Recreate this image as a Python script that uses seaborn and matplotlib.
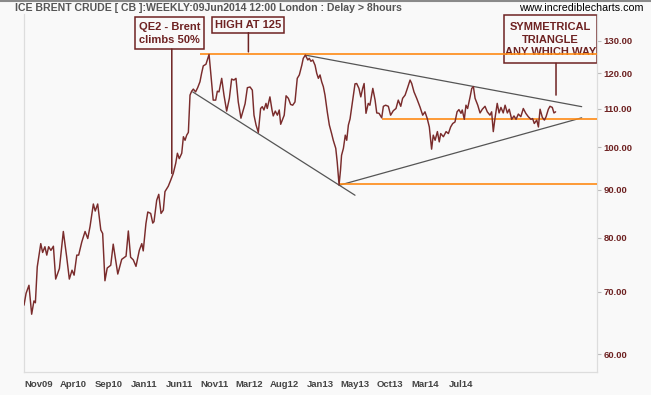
import matplotlib
matplotlib.use("Agg")
import matplotlib.pyplot as plt
import seaborn as sns
import pandas as pd
from matplotlib.patches import Rectangle
from matplotlib.lines import Line2D
from matplotlib.ticker import FixedLocator, NullLocator, FuncFormatter

# ---------------- data ----------------
weeks = [0, 1.0, 2.4, 3.7, 4.8, 5.5, 6.4, 8.1, 9.0, 10.1, 11.0, 11.9, 13.0, 14.2, 15.3, 17.1,
         19.0, 20.6, 21.9, 23.2, 24.2, 25.5, 26.4, 27.9, 29.5, 30.8, 31.9, 33.5, 34.4, 35.6,
         37.1, 38.0, 39.1, 40.2, 41.9, 43.1, 45.3, 47.2, 49.3, 50.4, 51.5, 52.8, 54.1, 55.7,
         56.9, 57.6, 58.9, 59.8, 61.2, 62.2, 62.8, 64.1, 65.1, 66.2, 67.3, 68.1, 69.7, 70.9,
         72.1, 73.3, 74.1, 75.0, 76.2, 77.0, 77.8, 78.6, 79.4, 80.2, 81.0, 81.8, 82.9, 83.9,
         85.0, 85.8, 86.6, 87.9, 89.4, 90.3, 91.4, 92.6, 93.4, 94.2, 95.5, 96.6, 97.9, 99.2,
         100.3, 101.4, 102.4, 103.5, 104.8, 106.8, 107.9, 109.2, 110.3, 111.1, 112.1, 113.2,
         114.3, 115.1, 115.9, 116.9, 117.5, 118.8, 119.8, 120.4, 121.4, 122.4, 123.3, 124.0,
         125.0, 125.7, 126.6, 127.7, 128.8, 129.8, 130.9, 132.0, 133.0, 134.2, 134.9, 135.9,
         137.1, 137.8, 138.6, 139.5, 140.6, 141.4, 142.2, 143.0, 143.8, 144.6, 145.4, 146.5,
         147.5, 148.6, 149.4, 150.6, 151.3, 152.2, 152.9, 153.4, 154.3, 155.2, 155.9, 156.7,
         157.5, 158.6, 159.9, 160.7, 161.8, 162.7, 163.6, 164.3, 165.2, 166.3, 167.1, 168.5,
         169.6, 170.4, 171.5, 172.8, 173.6, 174.7, 176.0, 177.1, 178.4, 179.7, 180.8, 182.0,
         182.9, 184.1, 185.2, 186.5, 187.3, 188.4, 189.7, 191.3, 192.6, 193.7, 194.8, 195.8,
         196.9, 197.7, 198.6, 199.7, 200.6, 201.3, 202.6, 203.9, 205.0, 206.1, 207.1, 208.2,
         209.2, 210.1, 211.1, 211.7, 212.7, 213.5, 214.3, 215.5, 216.3, 217.1, 217.9, 219.2,
         220.3, 221.4, 222.7, 223.8, 225.1, 225.9, 226.7, 227.5, 228.6, 229.5, 230.4, 231.5,
         232.4, 233.5, 234.4, 235.6, 236.7, 237.7, 238.8, 240.0, 241.2, 242.4, 243.6, 244.9,
         245.7, 246.5, 247.7, 248.5, 249.3, 250.4, 251.4, 252.2, 253.3, 254.1, 255.2, 256.0,
         256.8]

prices = [67.7, 69.7, 71.1, 66.2, 68.4, 68.1, 74.4, 78.8, 77.1, 78.2, 76.6, 78.2, 77.5, 78.3, 72.2, 74.1,
          81.2, 76.3, 72.2, 73.8, 72.9, 76.6, 76.6, 79.1, 81.2, 79.8, 82.2, 86.9, 85.4, 86.9,
          81.5, 80.8, 71.9, 74.2, 74.7, 78.7, 73.1, 75.8, 76.4, 81.3, 76.2, 75.7, 74.5, 77.5,
          78.8, 77.4, 82.8, 85.2, 84.9, 82.9, 83.2, 87.7, 89.0, 84.9, 85.6, 89.6, 90.8, 92.2,
          93.7, 96.1, 98.5, 97.2, 98.5, 102.6, 101.7, 103.0, 103.7, 113.7, 114.8, 115.4, 114.6, 115.8,
          117.5, 120.0, 122.2, 122.7, 125.7, 119.5, 112.3, 112.3, 114.8, 114.6, 118.5, 113.7, 109.3, 112.8,
          118.3, 118.0, 118.5, 111.8, 107.4, 111.3, 115.8, 116.0, 115.1, 108.2, 105.6, 103.7,
          110.0, 110.5, 109.6, 111.4, 110.0, 113.2, 109.6, 108.0, 109.3, 108.2, 109.6, 105.8,
          107.2, 108.2, 113.5, 112.8, 111.1, 110.9, 111.8, 118.5, 119.5, 122.4, 124.5, 125.5,
          124.0, 124.5, 123.6, 124.0, 122.4, 120.0, 118.5, 119.5, 117.5, 116.1, 113.7, 109.1,
          105.6, 103.4, 101.7, 99.7, 96.4, 91.1, 94.5, 98.0, 99.7, 103.0, 101.7, 105.6,
          107.2, 111.5, 116.9, 117.0, 115.6, 113.2, 115.6, 117.0, 108.7, 111.4, 110.9, 115.6,
          112.3, 108.8, 108.7, 107.5, 110.6, 110.9, 110.6, 108.2, 109.4, 110.0, 112.3, 110.6,
          112.8, 113.7, 115.6, 118.0, 117.0, 114.6, 112.8, 110.4, 108.2, 109.1, 107.3, 105.1,
          99.5, 103.0, 101.7, 103.9, 101.3, 103.4, 102.6, 103.9, 103.4, 105.1, 106.0, 106.4,
          109.1, 109.7, 108.7, 109.6, 107.1, 110.9, 110.0, 113.2, 115.6, 116.1, 112.8, 110.9,
          108.8, 109.8, 110.6, 109.1, 108.2, 109.1, 103.9, 107.3, 111.4, 108.8, 110.3, 108.8,
          110.9, 108.8, 109.8, 107.1, 108.0, 107.1, 108.5, 107.8, 110.0, 108.7, 107.8, 107.1,
          107.3, 106.0, 106.9, 105.1, 109.8, 107.6, 106.9, 107.8, 109.8, 110.6, 110.3, 108.8,
          109.1]

# trend lines (start/end week, start/end price)
upper_tl_weeks = [135.9, 269.4]
upper_tl_prices = [125.5, 110.5]
lower_tl_weeks = [152.2, 269.4]
lower_tl_prices = [91.0, 107.5]
desc_tl_weeks = [81.5, 159.9]
desc_tl_prices = [114.6, 88.8]

# horizontal support/resistance levels
level_prices = [125.8, 107.3, 91.2]
level_start_weeks = [85.0, 172.8, 152.3]

y_ticks = [60, 70, 80, 90, 100, 110, 120, 130]
x_labels = ["Nov09", "Apr10", "Sep10", "Jan11", "Jun11", "Nov11", "Mar12",
            "Aug12", "Jan13", "May13", "Oct13", "Mar14", "Jul14"]

title = "ICE BRENT CRUDE [ CB ]:WEEKLY:09Jun2014 12:00 London : Delay > 8hours"
site = "www.incrediblecharts.com"
notes = ["QE2 - Brent\nclimbs 50%", "HIGH AT 125", "SYMMETRICAL\nTRIANGLE\nANY WHICH WAY"]
note_targets_week = [71.4, 108.4, 257.0]
note_targets_price = [93.7, 126.5, 113.7]

# ---------------- style ----------------
BG = "#f9f9f9"
MAROON = "#6e2222"
LINE = "#7a2c2c"
ORANGE = "#ff8a14"
GREY = "#555555"

sns.set_style("white")
plt.rcParams["font.family"] = ["Liberation Sans", "DejaVu Sans"]

W, H = 651, 395
fig = plt.figure(figsize=(W / 100, H / 100), dpi=100, facecolor=BG)
ax = fig.add_axes([24 / W, (H - 372) / H, (597 - 24) / W, (372 - 14) / H])
ax.set_facecolor(BG)

df = pd.DataFrame({"week": weeks, "price": prices})
sns.lineplot(data=df, x="week", y="price", sort=False, estimator=None,
             color=LINE, lw=1.05, ax=ax, zorder=5)

for xs, ys in [(upper_tl_weeks, upper_tl_prices), (lower_tl_weeks, lower_tl_prices),
               (desc_tl_weeks, desc_tl_prices)]:
    ax.plot(xs, ys, color=GREY, lw=0.9, zorder=4)

ax.set_yscale("log")
ax.set_ylim(57.4, 138.9)
ax.set_xlim(0, 276.8)
xr = ax.get_xlim()[1]
for lv, st in zip(level_prices, level_start_weeks):
    ax.plot([st, xr], [lv, lv], color=ORANGE, lw=1.2, zorder=4, solid_capstyle="butt")

ax.yaxis.set_major_locator(FixedLocator(y_ticks))
ax.yaxis.set_minor_locator(NullLocator())
ax.yaxis.set_major_formatter(FuncFormatter(lambda v, p: f"{v:.2f}"))
ax.yaxis.tick_right()
ax.set_xticks([7 + 17 * i for i in range(len(x_labels))], x_labels)
ax.set_xlabel("")
ax.set_ylabel("")

ax.tick_params(axis="y", which="major", length=3, width=0.8, color="#bbbbbb", pad=1.5,
               labelsize=6.8, labelcolor=MAROON)
ax.tick_params(axis="x", which="major", length=2.5, width=0.8, color="#cccccc", pad=3.6,
               labelsize=6.8, labelcolor="#444444")
for lab in ax.get_xticklabels() + ax.get_yticklabels():
    lab.set_fontweight("bold")

for s in ["left", "bottom", "right"]:
    ax.spines[s].set_color("#dddddd")
    ax.spines[s].set_linewidth(0.9)
ax.spines["top"].set_visible(False)

# header texts
fig.text(15 / W, 1 - 8.3 / H, title, ha="left", va="center", fontsize=7.6,
         fontweight="bold", color="#555555")
fig.text(643 / W, 1 - 8.0 / H, site, ha="right", va="center", fontsize=7.7, color="black")
fig.add_artist(Line2D([0, 1], [1 - 1 / H, 1 - 1 / H], transform=fig.transFigure,
                      color="#8a8a8a", lw=1.5))

# annotation boxes (pixel layout)
boxes = [(135, 17.3, 204, 49), (212.3, 17.3, 284, 32.7), (504.3, 15, 596.7, 63.3)]
for (x0, y0, x1, y1), txt, tw, tp in zip(boxes, notes, note_targets_week, note_targets_price):
    ax.add_patch(Rectangle((x0 / W, 1 - y1 / H), (x1 - x0) / W, (y1 - y0) / H,
                           transform=fig.transFigure, facecolor=BG, edgecolor=MAROON,
                           lw=1.1, zorder=2, clip_on=False))
    ax.text((x0 + x1) / 2 / W, 1 - ((y0 + y1) / 2 + 0.5) / H, txt, transform=fig.transFigure,
            ha="center", va="center", fontsize=8, fontweight="bold", color=MAROON,
            linespacing=1.3, zorder=3, clip_on=False)
    ax.annotate("", xy=(tw, tp), xycoords="data",
                xytext=(tw, 1 - y1 / H), textcoords=("data", "figure fraction"),
                arrowprops=dict(arrowstyle="-", color=MAROON, lw=1.1, shrinkA=0, shrinkB=0),
                zorder=2, annotation_clip=False)

fig.savefig("out.png", dpi=100, facecolor=BG)
